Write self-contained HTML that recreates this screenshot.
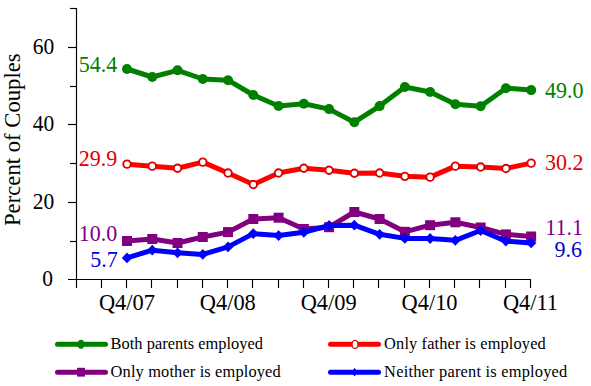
<!DOCTYPE html>
<html><head><meta charset="utf-8"><style>
html,body{margin:0;padding:0;background:#fff;width:591px;height:386px;overflow:hidden;font-family:"Liberation Serif",serif;}
svg{display:block;}
</style></head><body>
<svg width="591" height="386" viewBox="0 0 591 386">
<g stroke="#000" stroke-width="1.15" fill="none">
<line x1="76.5" y1="7.9" x2="76.5" y2="288"/>
<line x1="68" y1="279.5" x2="531" y2="279.5"/>
<line x1="70" y1="241.5" x2="76.5" y2="241.5"/>
<line x1="68" y1="202.5" x2="76.5" y2="202.5"/>
<line x1="70" y1="163.5" x2="76.5" y2="163.5"/>
<line x1="68" y1="124.5" x2="76.5" y2="124.5"/>
<line x1="70" y1="86.5" x2="76.5" y2="86.5"/>
<line x1="68" y1="47.5" x2="76.5" y2="47.5"/>
<line x1="70" y1="8.5" x2="76.5" y2="8.5"/>
<line x1="101.5" y1="279.5" x2="101.5" y2="288"/>
<line x1="126.5" y1="279.5" x2="126.5" y2="288"/>
<line x1="151.5" y1="279.5" x2="151.5" y2="288"/>
<line x1="177.5" y1="279.5" x2="177.5" y2="288"/>
<line x1="202.5" y1="279.5" x2="202.5" y2="288"/>
<line x1="227.5" y1="279.5" x2="227.5" y2="288"/>
<line x1="252.5" y1="279.5" x2="252.5" y2="288"/>
<line x1="278.5" y1="279.5" x2="278.5" y2="288"/>
<line x1="303.5" y1="279.5" x2="303.5" y2="288"/>
<line x1="328.5" y1="279.5" x2="328.5" y2="288"/>
<line x1="353.5" y1="279.5" x2="353.5" y2="288"/>
<line x1="378.5" y1="279.5" x2="378.5" y2="288"/>
<line x1="404.5" y1="279.5" x2="404.5" y2="288"/>
<line x1="429.5" y1="279.5" x2="429.5" y2="288"/>
<line x1="454.5" y1="279.5" x2="454.5" y2="288"/>
<line x1="479.5" y1="279.5" x2="479.5" y2="288"/>
<line x1="505.5" y1="279.5" x2="505.5" y2="288"/>
<line x1="530.5" y1="279.5" x2="530.5" y2="288"/>
</g>
<g font-family="Liberation Serif" font-size="21.5" fill="#000" text-anchor="end">
<text transform="translate(54.2,53.8) scale(1,1.05)">60</text>
<text transform="translate(54.2,130.8) scale(1,1.05)">40</text>
<text transform="translate(54.2,208.8) scale(1,1.05)">20</text>
<text transform="translate(52.9,285.8) scale(1,1.05)">0</text>
</g>
<g font-family="Liberation Serif" font-size="22.4" fill="#000" text-anchor="middle">
<text x="126.94" y="310">Q4/07</text>
<text x="227.82" y="310">Q4/08</text>
<text x="328.70" y="310">Q4/09</text>
<text x="429.58" y="310">Q4/10</text>
<text x="530.46" y="310">Q4/11</text>
</g>
<text font-family="Liberation Serif" font-size="22.7" fill="#000" transform="translate(19.5,226) rotate(-90)">Percent of Couples</text>
<polyline points="127.00,69.00 152.26,77.00 177.52,70.30 202.78,79.00 228.04,80.20 253.30,95.00 278.56,106.00 303.82,103.80 329.08,109.10 354.34,122.20 379.60,106.10 404.86,87.00 430.12,92.00 455.38,104.30 480.64,106.20 505.90,88.20 531.16,90.10" fill="none" stroke="#008000" stroke-width="5" stroke-linejoin="round" stroke-linecap="round"/>
<circle cx="127.00" cy="69.0" r="5" fill="#008000"/>
<circle cx="152.26" cy="77.0" r="5" fill="#008000"/>
<circle cx="177.52" cy="70.3" r="5" fill="#008000"/>
<circle cx="202.78" cy="79.0" r="5" fill="#008000"/>
<circle cx="228.04" cy="80.2" r="5" fill="#008000"/>
<circle cx="253.30" cy="95.0" r="5" fill="#008000"/>
<circle cx="278.56" cy="106.0" r="5" fill="#008000"/>
<circle cx="303.82" cy="103.8" r="5" fill="#008000"/>
<circle cx="329.08" cy="109.1" r="5" fill="#008000"/>
<circle cx="354.34" cy="122.2" r="5" fill="#008000"/>
<circle cx="379.60" cy="106.1" r="5" fill="#008000"/>
<circle cx="404.86" cy="87.0" r="5" fill="#008000"/>
<circle cx="430.12" cy="92.0" r="5" fill="#008000"/>
<circle cx="455.38" cy="104.3" r="5" fill="#008000"/>
<circle cx="480.64" cy="106.2" r="5" fill="#008000"/>
<circle cx="505.90" cy="88.2" r="5" fill="#008000"/>
<circle cx="531.16" cy="90.1" r="5" fill="#008000"/>
<polyline points="127.00,164.15 152.26,166.15 177.52,168.25 202.78,162.15 228.04,173.05 253.30,184.45 278.56,173.05 303.82,168.25 329.08,170.25 354.34,173.25 379.60,173.05 404.86,176.35 430.12,177.15 455.38,166.15 480.64,167.05 505.90,168.45 531.16,163.15" fill="none" stroke="#ff0000" stroke-width="5" stroke-linejoin="round" stroke-linecap="round"/>
<circle cx="127.00" cy="164.15" r="3.75" fill="#fff" stroke="#dd0000" stroke-width="1.9"/>
<circle cx="152.26" cy="166.15" r="3.75" fill="#fff" stroke="#dd0000" stroke-width="1.9"/>
<circle cx="177.52" cy="168.25" r="3.75" fill="#fff" stroke="#dd0000" stroke-width="1.9"/>
<circle cx="202.78" cy="162.15" r="3.75" fill="#fff" stroke="#dd0000" stroke-width="1.9"/>
<circle cx="228.04" cy="173.05" r="3.75" fill="#fff" stroke="#dd0000" stroke-width="1.9"/>
<circle cx="253.30" cy="184.45" r="3.75" fill="#fff" stroke="#dd0000" stroke-width="1.9"/>
<circle cx="278.56" cy="173.05" r="3.75" fill="#fff" stroke="#dd0000" stroke-width="1.9"/>
<circle cx="303.82" cy="168.25" r="3.75" fill="#fff" stroke="#dd0000" stroke-width="1.9"/>
<circle cx="329.08" cy="170.25" r="3.75" fill="#fff" stroke="#dd0000" stroke-width="1.9"/>
<circle cx="354.34" cy="173.25" r="3.75" fill="#fff" stroke="#dd0000" stroke-width="1.9"/>
<circle cx="379.60" cy="173.05" r="3.75" fill="#fff" stroke="#dd0000" stroke-width="1.9"/>
<circle cx="404.86" cy="176.35" r="3.75" fill="#fff" stroke="#dd0000" stroke-width="1.9"/>
<circle cx="430.12" cy="177.15" r="3.75" fill="#fff" stroke="#dd0000" stroke-width="1.9"/>
<circle cx="455.38" cy="166.15" r="3.75" fill="#fff" stroke="#dd0000" stroke-width="1.9"/>
<circle cx="480.64" cy="167.05" r="3.75" fill="#fff" stroke="#dd0000" stroke-width="1.9"/>
<circle cx="505.90" cy="168.45" r="3.75" fill="#fff" stroke="#dd0000" stroke-width="1.9"/>
<circle cx="531.16" cy="163.15" r="3.75" fill="#fff" stroke="#dd0000" stroke-width="1.9"/>
<polyline points="127.00,241.00 152.26,239.00 177.52,243.00 202.78,237.00 228.04,232.10 253.30,219.00 278.56,217.70 303.82,229.00 329.08,227.20 354.34,212.00 379.60,219.00 404.86,231.80 430.12,225.20 455.38,222.30 480.64,227.50 505.90,234.40 531.16,236.50" fill="none" stroke="#800080" stroke-width="5" stroke-linejoin="round" stroke-linecap="round"/>
<rect x="122.00" y="236.00" width="10" height="10" fill="#800080"/>
<rect x="147.26" y="234.00" width="10" height="10" fill="#800080"/>
<rect x="172.52" y="238.00" width="10" height="10" fill="#800080"/>
<rect x="197.78" y="232.00" width="10" height="10" fill="#800080"/>
<rect x="223.04" y="227.10" width="10" height="10" fill="#800080"/>
<rect x="248.30" y="214.00" width="10" height="10" fill="#800080"/>
<rect x="273.56" y="212.70" width="10" height="10" fill="#800080"/>
<rect x="298.82" y="224.00" width="10" height="10" fill="#800080"/>
<rect x="324.08" y="222.20" width="10" height="10" fill="#800080"/>
<rect x="349.34" y="207.00" width="10" height="10" fill="#800080"/>
<rect x="374.60" y="214.00" width="10" height="10" fill="#800080"/>
<rect x="399.86" y="226.80" width="10" height="10" fill="#800080"/>
<rect x="425.12" y="220.20" width="10" height="10" fill="#800080"/>
<rect x="450.38" y="217.30" width="10" height="10" fill="#800080"/>
<rect x="475.64" y="222.50" width="10" height="10" fill="#800080"/>
<rect x="500.90" y="229.40" width="10" height="10" fill="#800080"/>
<rect x="526.16" y="231.50" width="10" height="10" fill="#800080"/>
<polyline points="127.00,257.90 152.26,250.20 177.52,252.80 202.78,254.40 228.04,246.90 253.30,233.60 278.56,235.60 303.82,232.30 329.08,225.50 354.34,225.20 379.60,234.30 404.86,238.40 430.12,238.50 455.38,240.30 480.64,230.50 505.90,241.20 531.16,242.90" fill="none" stroke="#0000ff" stroke-width="5" stroke-linejoin="round" stroke-linecap="round"/>
<path d="M127.00,252.50 L132.20,257.90 L127.00,263.30 L121.80,257.90Z" fill="#0000ff"/>
<path d="M152.26,244.80 L157.46,250.20 L152.26,255.60 L147.06,250.20Z" fill="#0000ff"/>
<path d="M177.52,247.40 L182.72,252.80 L177.52,258.20 L172.32,252.80Z" fill="#0000ff"/>
<path d="M202.78,249.00 L207.98,254.40 L202.78,259.80 L197.58,254.40Z" fill="#0000ff"/>
<path d="M228.04,241.50 L233.24,246.90 L228.04,252.30 L222.84,246.90Z" fill="#0000ff"/>
<path d="M253.30,228.20 L258.50,233.60 L253.30,239.00 L248.10,233.60Z" fill="#0000ff"/>
<path d="M278.56,230.20 L283.76,235.60 L278.56,241.00 L273.36,235.60Z" fill="#0000ff"/>
<path d="M303.82,226.90 L309.02,232.30 L303.82,237.70 L298.62,232.30Z" fill="#0000ff"/>
<path d="M329.08,220.10 L334.28,225.50 L329.08,230.90 L323.88,225.50Z" fill="#0000ff"/>
<path d="M354.34,219.80 L359.54,225.20 L354.34,230.60 L349.14,225.20Z" fill="#0000ff"/>
<path d="M379.60,228.90 L384.80,234.30 L379.60,239.70 L374.40,234.30Z" fill="#0000ff"/>
<path d="M404.86,233.00 L410.06,238.40 L404.86,243.80 L399.66,238.40Z" fill="#0000ff"/>
<path d="M430.12,233.10 L435.32,238.50 L430.12,243.90 L424.92,238.50Z" fill="#0000ff"/>
<path d="M455.38,234.90 L460.58,240.30 L455.38,245.70 L450.18,240.30Z" fill="#0000ff"/>
<path d="M480.64,225.10 L485.84,230.50 L480.64,235.90 L475.44,230.50Z" fill="#0000ff"/>
<path d="M505.90,235.80 L511.10,241.20 L505.90,246.60 L500.70,241.20Z" fill="#0000ff"/>
<path d="M531.16,237.50 L536.36,242.90 L531.16,248.30 L525.96,242.90Z" fill="#0000ff"/>
<g font-family="Liberation Serif" font-size="22" text-anchor="end">
<text transform="translate(117.3,71.7) scale(1,1.07)" fill="#008000">54.4</text>
<text transform="translate(117.3,165.9) scale(1,1.07)" fill="#e00000">29.9</text>
<text transform="translate(117.3,241) scale(1,1.07)" fill="#800080">10.0</text>
<text transform="translate(117.8,267.3) scale(1,1.07)" fill="#0000d8">5.7</text>
<text transform="translate(583.5,98.2) scale(1,1.07)" fill="#008000">49.0</text>
<text transform="translate(583.5,170) scale(1,1.07)" fill="#e00000">30.2</text>
<text transform="translate(583,234.9) scale(1,1.07)" fill="#800080">11.1</text>
<text transform="translate(582,257) scale(1,1.07)" fill="#0000d8">9.6</text>
</g>
<line x1="57.5" y1="344.2" x2="105.5" y2="344.2" stroke="#008000" stroke-width="5" stroke-linecap="round"/><ellipse cx="81.0" cy="344.2" rx="3.3" ry="4.5" fill="#008000"/>
<line x1="57.5" y1="372.2" x2="105.5" y2="372.2" stroke="#800080" stroke-width="5" stroke-linecap="round"/><rect x="77.05" y="367.8" width="7.9" height="8.8" fill="#800080"/>
<line x1="330.5" y1="344.2" x2="378.5" y2="344.2" stroke="#ff0000" stroke-width="5" stroke-linecap="round"/><ellipse cx="355.0" cy="344.4" rx="2.9" ry="4.0" fill="#fff" stroke="#d01010" stroke-width="1.1"/>
<line x1="330.5" y1="372.2" x2="378.5" y2="372.2" stroke="#0000ff" stroke-width="5" stroke-linecap="round"/><path d="M354.6,367.8 L357.6,372.2 L354.6,376.59999999999997 L351.6,372.2Z" fill="#0000ff"/>
<g font-family="Liberation Serif" font-size="16.4" fill="#000">
<text x="110.6" y="348.7" textLength="152.4" lengthAdjust="spacing">Both parents employed</text>
<text x="110.6" y="376.6" textLength="170.1" lengthAdjust="spacing">Only mother is employed</text>
<text x="384.1" y="348.7" textLength="161.7" lengthAdjust="spacing">Only father is employed</text>
<text x="384.1" y="376.6" textLength="183.2" lengthAdjust="spacing">Neither parent is employed</text>
</g>
</svg>
</body></html>
